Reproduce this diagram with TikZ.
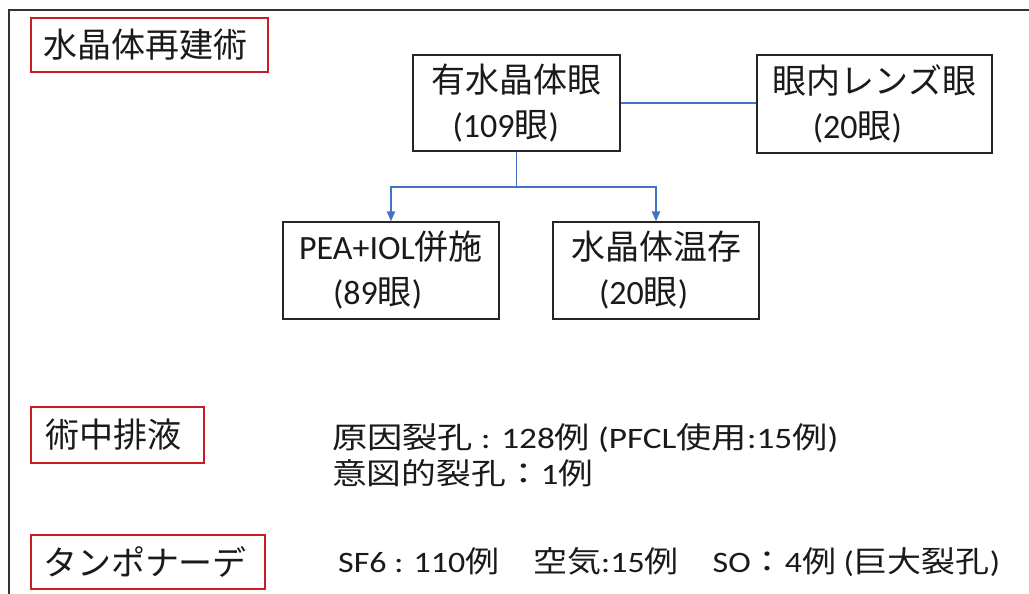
\documentclass[tikz,border=0pt]{standalone}
\usepackage{graphicx}
\usepackage{fontspec}
\setmainfont{Carlito}
\newfontfamily\jpf{Noto Sans CJK JP}
\usetikzlibrary{arrows.meta}
\definecolor{connc}{HTML}{4472C4}
\definecolor{redb}{RGB}{200,30,35}
\definecolor{ink}{HTML}{1A1A1A}
\newcommand\JP[1]{{\jpf #1}}
\tikzset{
  box/.style={draw=black!85, line width=1.2pt, inner sep=0pt, align=left,
    font=\fontsize{34}{45}\selectfont, text=ink},
  redbox/.style={draw=redb, line width=2pt, inner sep=0pt,
    font=\fontsize{34}{40}\selectfont\jpf, text=ink},
  conn/.style={draw=connc, line width=1.8pt},
  arr/.style={conn, -{Triangle[width=8pt,length=10pt]}},
  plain/.style={anchor=west, inner sep=0pt, text=ink,
    font=\fontsize{30}{36}\selectfont}
}
\begin{document}
\begin{tikzpicture}[x=1pt,y=-1pt]
\useasboundingbox (0,0) rectangle (1029,594);
\fill[white] (0,0) rectangle (1029,594);
\draw[line width=2pt, black!80] (1029,10) -- (9,10) -- (9,594);

% red headings
\node[redbox, minimum width=237pt, minimum height=54pt] (r1) at (149.5,45) {水晶体再建術\kern8pt};
\node[redbox, minimum width=173pt, minimum height=56pt] (r2) at (117.5,435) {術中排液\kern8pt};
\node[redbox, minimum width=234pt, minimum height=54pt] (r3) at (148,562) {タンポナーデ\kern6pt};

% boxes
\node[box, minimum width=207pt, minimum height=96pt] (A) at (516.5,103)
  {\JP{有水晶体眼}\\\hspace*{21pt}(109\JP{眼})};
\node[box, minimum width=235pt, minimum height=98pt] (B) at (874.5,104)
  {\JP{眼内レンズ眼}\\\hspace*{40pt}(20\JP{眼})};
\node[box, minimum width=216pt, minimum height=97pt] (C) at (391,270.5)
  {PEA+IOL\JP{併施}\\\hspace*{34pt}(89\JP{眼})};
\node[box, minimum width=206pt, minimum height=97pt] (D) at (656,270.5)
  {\JP{水晶体温存}\\\hspace*{28pt}(20\JP{眼})};

% connectors
\draw[conn] (A.east) -- (A.east -| B.west);
\coordinate (split) at (A.south |- 0,187);
\draw[conn] (A.south) -- (split);
\draw[arr] (split) -| (C.north);
\draw[arr] (split) -| (D.north);

% bottom text
\node[plain] (t1) at (332,438)
  {\resizebox{506pt}{25pt}{\JP{原因裂孔} : 128\JP{例} (PFCL\JP{使用}:15\JP{例})}};
\node[plain] (t2) at (332,473)
  {\resizebox{261pt}{25pt}{\JP{意図的裂孔：}1\JP{例}}};
\node[plain] (t3) at (338,562)
  {\resizebox{662pt}{25pt}{SF6 : 110\JP{例　空気}:15\JP{例　}SO\JP{：}4\JP{例} (\JP{巨大裂孔})}};
\end{tikzpicture}
\end{document}
